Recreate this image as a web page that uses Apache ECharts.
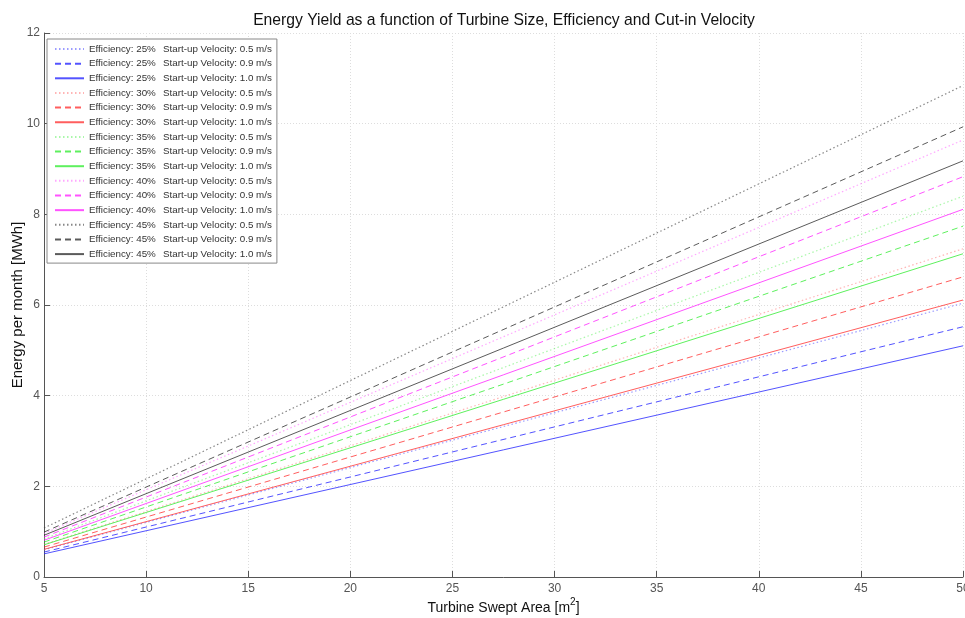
<!DOCTYPE html>
<html>
<head>
<meta charset="utf-8">
<script src="https://cdn.jsdelivr.net/npm/echarts@6/dist/echarts.min.js"></script>
<style>
  html, body { margin: 0; padding: 0; background: #fff; }
  #myChart { width: 965px; height: 618px; }
</style>
</head>
<body>
<div id="myChart"></div>
<script>
// swept area at the ends of each line
var areas = [5, 50];
var efficiencies = ['25%', '25%', '25%', '30%', '30%', '30%', '35%', '35%', '35%', '40%', '40%', '40%', '45%', '45%', '45%'];
var velocities = ['0.5', '0.9', '1.0', '0.5', '0.9', '1.0', '0.5', '0.9', '1.0', '0.5', '0.9', '1.0', '0.5', '0.9', '1.0'];
// energy per month [MWh] at area 5 and 50
var eff25v05 = [0.60, 6.04];
var eff25v09 = [0.55, 5.52];
var eff25v10 = [0.51, 5.10];
var eff30v05 = [0.72, 7.24];
var eff30v09 = [0.66, 6.62];
var eff30v10 = [0.61, 6.11];
var eff35v05 = [0.84, 8.40];
var eff35v09 = [0.77, 7.74];
var eff35v10 = [0.71, 7.13];
var eff40v05 = [0.96, 9.64];
var eff40v09 = [0.88, 8.83];
var eff40v10 = [0.81, 8.11];
var eff45v05 = [1.08, 10.84];
var eff45v09 = [0.99, 9.93];
var eff45v10 = [0.92, 9.18];
var yTicks = [0, 2, 4, 6, 8, 10, 12];
var xTicks = [5, 10, 15, 20, 25, 30, 35, 40, 45, 50];

var allValues = [eff25v05, eff25v09, eff25v10, eff30v05, eff30v09, eff30v10,
                 eff35v05, eff35v09, eff35v10, eff40v05, eff40v09, eff40v10,
                 eff45v05, eff45v09, eff45v10];
// colour per efficiency, line type per velocity
var colors = ['rgba(40,40,255,0.8)', 'rgba(255,40,40,0.75)', 'rgba(40,235,40,0.75)', 'rgba(255,40,255,0.8)', 'rgba(50,50,50,0.8)'];
var dotColors = ['rgba(90,90,255,0.6)', 'rgba(255,120,120,0.55)', 'rgba(100,240,100,0.55)', 'rgba(255,110,255,0.6)', 'rgba(70,70,70,0.65)'];

var series = allValues.map(function (vals, i) {
    var kind = i % 3;
    var grp = Math.floor(i / 3);
    return {
        name: 'Efficiency: ' + efficiencies[i] + '|Start-up Velocity: ' + velocities[i] + ' m/s',
        type: 'line',
        symbol: 'none',
        silent: true,
        data: areas.map(function (a, k) { return [a, vals[k]]; }),
        lineStyle: {
            width: kind === 0 ? 1.2 : 1,
            color: kind === 0 ? dotColors[grp] : colors[grp],
            type: kind === 0 ? [1.5, 2.5] : (kind === 1 ? [6, 4] : 'solid')
        },
        itemStyle: { color: kind === 0 ? dotColors[grp] : colors[grp] }
    };
});

var myChart = echarts.init(document.getElementById('myChart'));
myChart.setOption({
    animation: false,
    backgroundColor: '#fff',
    title: {
        text: 'Energy Yield as a function of Turbine Size, Efficiency and Cut-in Velocity',
        left: 499,
        textAlign: 'center',
        top: 8,
        textStyle: { fontFamily: 'Liberation Sans', fontSize: 15.7, fontWeight: 'normal', color: '#111' }
    },
    legend: {
        orient: 'vertical',
        left: 47,
        top: 39,
        padding: [3, 5, 2, 7],
        itemGap: 0.65,
        itemWidth: 29,
        itemHeight: 10,
        borderColor: '#888',
        borderWidth: 1,
        backgroundColor: '#fff',
        itemStyle: { opacity: 0 },
        formatter: function (name) {
            var parts = name.split('|');
            return '{a|' + parts[0] + '}{b|' + parts[1] + '}';
        },
        textStyle: {
            fontFamily: 'Liberation Sans', fontSize: 9.8, lineHeight: 14, color: '#333',
            rich: {
                a: { fontFamily: 'Liberation Sans', fontSize: 9.8, lineHeight: 14, color: '#333', width: 74 },
                b: { fontFamily: 'Liberation Sans', fontSize: 9.8, lineHeight: 14, color: '#333' }
            }
        },
        data: series.map(function (s) { return s.name; })
    },
    grid: { left: 44, right: 2, top: 33, bottom: 41, outerBoundsMode: 'none' },
    xAxis: {
        type: 'value',
        min: 5,
        max: 50,
        interval: 5,
        name: '{a|Turbine Swept Area [m}{s|2}{a|]}',
        nameLocation: 'middle',
        nameGap: 20,
        nameMoveOverlap: false,
        nameTextStyle: {
            rich: {
                a: { fontFamily: 'Liberation Sans', fontSize: 14, color: '#111', verticalAlign: 'bottom' },
                s: { fontFamily: 'Liberation Sans', fontSize: 10, color: '#111', verticalAlign: 'top', padding: [0, 0, 8, 0] }
            }
        },
        axisLine: { lineStyle: { color: '#555' } },
        axisTick: { inside: true, length: 6, lineStyle: { color: '#555' } },
        axisLabel: { fontFamily: 'Liberation Sans', fontSize: 12, color: '#555', margin: 6,
            formatter: function (v) { return xTicks.indexOf(v) >= 0 ? String(v) : ''; } },
        splitLine: { show: true, lineStyle: { color: '#ddd', type: [1, 2] } }
    },
    yAxis: {
        type: 'value',
        min: 0,
        max: 12,
        interval: 2,
        name: 'Energy per month [MWh]',
        nameLocation: 'middle',
        nameGap: 19,
        nameMoveOverlap: false,
        nameTextStyle: { fontFamily: 'Liberation Sans', fontSize: 15, color: '#111' },
        axisLine: { show: true, lineStyle: { color: '#555' } },
        axisTick: { show: true, inside: true, length: 6, lineStyle: { color: '#555' } },
        axisLabel: { fontFamily: 'Liberation Sans', fontSize: 12, color: '#555', margin: 4,
            formatter: function (v) { return yTicks.indexOf(v) >= 0 ? String(v) : ''; } },
        splitLine: { show: true, lineStyle: { color: '#ddd', type: [1, 2] } }
    },
    series: series
});
</script>
</body>
</html>
